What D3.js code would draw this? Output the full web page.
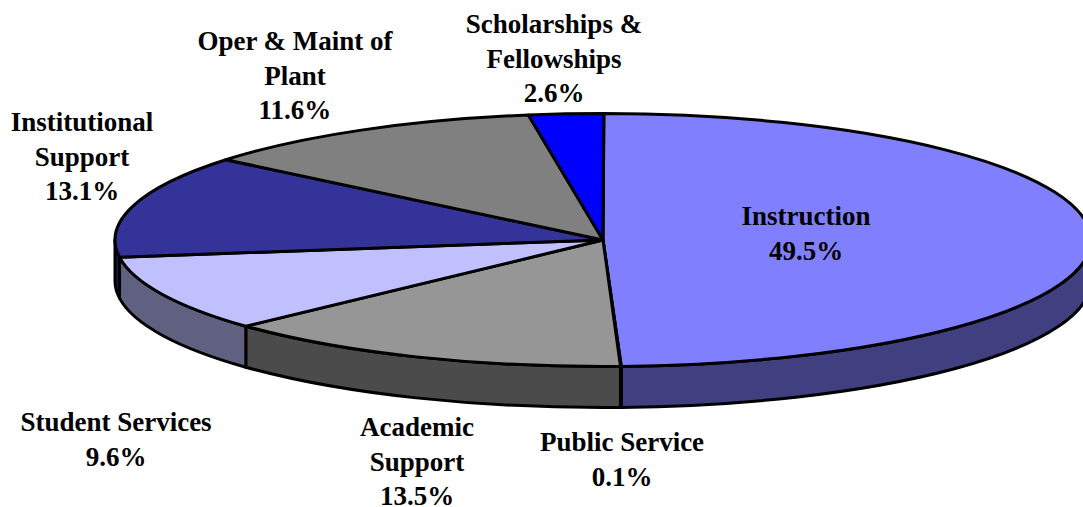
<!DOCTYPE html>
<html><head><meta charset="utf-8">
<script src="https://cdn.jsdelivr.net/npm/d3@7"></script>
<style>html,body{margin:0;padding:0;background:#fff;overflow:hidden}svg{display:block}</style>
</head><body><svg id="c" width="1083" height="507"></svg>
<script>
const categories = ["Instruction","Public Service","Academic Support","Student Services","Institutional Support","Oper & Maint of Plant","Scholarships & Fellowships"];
const values = [49.5,0.1,13.5,9.6,13.1,11.6,2.6];
const labelLines = [["Instruction"],["Public Service"],["Academic","Support"],["Student Services"],["Institutional","Support"],["Oper & Maint of","Plant"],["Scholarships &","Fellowships"]];
const topColors = ["#8080ff","#802060","#969696","#c0c0ff","#333399","#808080","#0000ff"];
const wallColors = ["#404080","#401030","#4b4b4b","#606080","#1a1a4d","#404040","#000080"];

const layout = {cx:603, cy:240, rx:488, ry:126.5, depth:41, sw:3, font:27, lh:34.5};
const labelAnchors = [[806,225],[622,451],[417,436],[116,431],[82,131],[295,50],[554,33]];

// the original's 3-D view slightly distorts angles; this maps pie angles (deg) to drawn angles (deg)
const viewAngle = d3.scaleLinear()
  .domain([0,178.2,178.56,227.16,261.72,350.64,360])
  .range([0.1,177.85,177.95,227.05,262.2,351.2,360.1]);

const svg = d3.select("#c");
const rad = d => d*Math.PI/180, deg = r => r*180/Math.PI;
const pie = d3.pie().sort(null).value(d=>d).startAngle(0).endAngle(2*Math.PI);
const arcs = pie(values).map(d=>({...d,
  startAngle:rad(viewAngle(deg(d.startAngle))), endAngle:rad(viewAngle(deg(d.endAngle)))}));
const {cx,cy,rx,ry,depth,sw} = layout;
const px = a => cx + rx*Math.sin(a);
const py = a => cy - ry*Math.cos(a);

// side walls: only the front half of the ellipse (pi/2 .. 3pi/2)
const walls = svg.append("g").attr("stroke","#000").attr("stroke-width",sw).attr("stroke-linejoin","round");
arcs.forEach((d,i)=>{
  const a0 = Math.max(d.startAngle, Math.PI/2), a1 = Math.min(d.endAngle, 3*Math.PI/2);
  if (a1 <= a0) return;
  const p = `M${px(a0)},${py(a0)}A${rx},${ry} 0 0 1 ${px(a1)},${py(a1)}L${px(a1)},${py(a1)+depth}A${rx},${ry} 0 0 0 ${px(a0)},${py(a0)+depth}Z`;
  walls.append("path").attr("d",p).attr("fill",wallColors[i]);
});

// top face: arcs squashed into the ellipse
const arc = d3.arc().innerRadius(0).outerRadius(rx);
svg.append("g").attr("transform",`translate(${cx},${cy}) scale(1,${ry/rx})`)
  .selectAll("path").data(arcs).join("path")
  .attr("d",arc)
  .attr("fill",(d,i)=>topColors[i])
  .attr("stroke","#000").attr("stroke-width",sw)
  .attr("stroke-linejoin","round")
  .attr("vector-effect","non-scaling-stroke");

// labels
const fmt = d3.format(".1f");
const labels = svg.append("g").attr("font-family","'Liberation Serif'").attr("font-weight","bold")
  .attr("font-size",layout.font).attr("text-anchor","middle").attr("fill","#000");
categories.forEach((c,i)=>{
  const lines = [...labelLines[i], fmt(values[i])+"%"];
  const [x,y] = labelAnchors[i];
  lines.forEach((t,j)=>labels.append("text").attr("x",x).attr("y",y+j*layout.lh).text(t));
});
</script></body></html>
